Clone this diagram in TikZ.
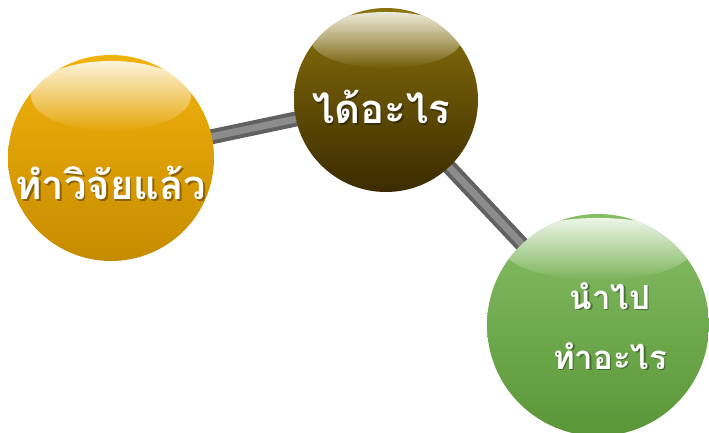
\documentclass[tikz,border=0pt]{standalone}
\usepackage{fontspec}
\newfontfamily\thaifont[Script=Thai]{Loma}
\usetikzlibrary{fadings}

\definecolor{ojtop}{HTML}{F2B20C}
\definecolor{ojbot}{HTML}{C78B00}
\definecolor{brtop}{HTML}{8A720C}
\definecolor{brbot}{HTML}{3B2B00}
\definecolor{grtop}{HTML}{86BE66}
\definecolor{grbot}{HTML}{5A9638}

\pgfdeclarelayer{bg}
\pgfsetlayers{bg,main}

\tikzset{
  ball/.style={circle,inner sep=0pt,minimum size=#1},
  glare/.style={fill=white,fill opacity=0.85,path fading=south},
  rod/.style={line width=15pt,draw=black!62},
  rodshine/.style={line width=7pt,draw=black!45},
  balltext/.style={text=white,align=center,
    font=\thaifont\bfseries\fontsize{#1}{60}\selectfont},
  balltext/.default=34
}

\begin{document}
\begin{tikzpicture}[x=1pt,y=-1pt]
	\useasboundingbox (0,0) rectangle (709,433);
	\clip (0,0) rectangle (709,433);

	% the three balls
	\node[ball=206pt,top color=ojtop,bottom color=ojbot] (vijai) at (111,158) {};
	\node[ball=184pt,top color=brtop,bottom color=brbot] (daiarai) at (386,100) {};
	\node[ball=222pt,top color=grtop,bottom color=grbot] (namtai) at (598,325) {};

	% rods behind them
	\begin{pgfonlayer}{bg}
		\draw[rod] (vijai.center) -- (daiarai.center) -- (namtai.center);
		\draw[rodshine] (vijai.center) -- (daiarai.center) -- (namtai.center);
	\end{pgfonlayer}

	% glossy top of each ball, kept inside the ball
	\foreach \b/\r/\up/\rx/\ry in {vijai/103/62/80/35, daiarai/92/60/75/28, namtai/111/76/94/31}{
		\begin{scope}
			\clip (\b.center) circle (\r pt);
			\fill[glare] ([yshift=\up pt]\b.center) ellipse (\rx pt and \ry pt);
		\end{scope}
	}

	% labels
	\node[balltext=40,text=black,opacity=0.35] (vijai-s) at ([xshift=1.5pt,yshift=-26.5pt]vijai.center) {ทำวิจัยแล้ว};
	\node[balltext=40] (vijai-t) at ([yshift=-25pt]vijai.center) {ทำวิจัยแล้ว};
	\node[balltext=40,text=black,opacity=0.35] (daiarai-s) at ([xshift=-3.5pt,yshift=-8.5pt]daiarai.center) {ได้อะไร};
	\node[balltext=40] (daiarai-t) at ([xshift=-5pt,yshift=-7pt]daiarai.center) {ได้อะไร};
	\node[balltext=33,text=black,opacity=0.35] (namtai-s) at ([xshift=13.5pt,yshift=-2.5pt]namtai.center) {นำไป\\ทำอะไร};
	\node[balltext=33] (namtai-t) at ([xshift=12pt,yshift=-1pt]namtai.center) {นำไป\\ทำอะไร};
\end{tikzpicture}
\end{document}
